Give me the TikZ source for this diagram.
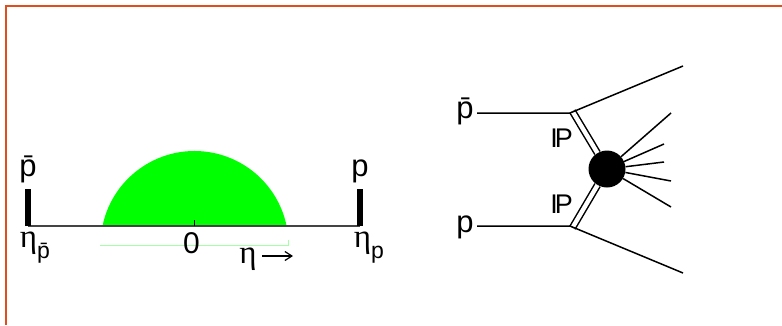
\documentclass[tikz,border=0pt]{standalone}
\usepackage{xcolor}
\usepackage{fontspec}
\setmainfont{Liberation Sans}
\newfontfamily\etafont{Liberation Serif}
\usetikzlibrary{
  arrows.meta,
  positioning
}
\definecolor{FrameOrange}{HTML}{E04E20}
\definecolor{PlateauGreen}{HTML}{00FF00}
\definecolor{AxisGrey}{HTML}{444444}
\tikzset{
  lbl/.style={inner sep=0pt,anchor=base,font=\fontsize{31}{31}\selectfont},
  pomlbl/.style={inner sep=0pt,anchor=base,font=\fontsize{27}{27}\selectfont},
  prong/.style={line width=1.5pt,black},
  pomeron/.style={double=white,line width=1.5pt,double distance=4.4pt,black},
  beambar/.style={line width=5.5pt,black}
}
\newcommand{\etasym}{{\etafont\fontsize{33}{33}\selectfont η}}
\newcommand{\subp}[1]{\raisebox{-11pt}{\fontsize{23}{23}\selectfont #1}}
\begin{document}
\begin{tikzpicture}[x=1pt,y=-1pt]
  \useasboundingbox (0,0) rectangle (782,325);
  \draw[FrameOrange,line width=2.4pt] (6,325) -- (6,6) -- (782,6);
  % rapidity plateau
  \fill[PlateauGreen] (102.5,226) arc[start angle=191.66,end angle=348.34,radius=94] -- cycle;
  \draw[PlateauGreen!35,line width=0.6pt] (100,245) -- (288,245) -- (288,240);
  \coordinate (etaL) at (28,226);
  \coordinate (etaR) at (360,226);
  \coordinate (barL) at (28,189);
  \coordinate (barR) at (360,189);
  \coordinate (zero) at (194,226);
  \coordinate (zerotop) at (194,220);
  \draw[AxisGrey,line width=1.1pt] (etaL) -- (etaR);
  \draw[black,line width=1pt] (zero) -- (zerotop);
  \draw[beambar] (etaL) -- (barL);
  \draw[beambar] (etaR) -- (barR);
  \node[lbl] (pbarL) at (28,176) {\=p};
  \node[lbl] (pR) at (360,176) {p};
  \node[lbl] (etapbar) at (35,247) {\etasym\subp{\=p}};
  \node[lbl] (etap) at (369,247) {\etasym\subp{p}};
  \node[lbl,font=\fontsize{30}{30}\selectfont] (zerolabel) at (191.5,253) {0};
  \node[lbl] (etalabel) at (248,263) {\etasym};
  \coordinate (arrowtail) at (262,256);
  \coordinate (arrowend) at (293,256);
  \draw[-{Straight Barb[length=7pt,width=9pt]},line width=1.2pt] (arrowtail) -- (arrowend);
  % diffractive graph
  \coordinate (vtop) at (570,113);
  \coordinate (vbot) at (570,226);
  \coordinate (vtopdbl) at (572.4,111.2);
  \coordinate (vbotdbl) at (572.4,227.8);
  \coordinate (outtop) at (683,66);
  \coordinate (outbot) at (683,273);
  \coordinate (pbarstub) at (477,113);
  \coordinate (pstub) at (477,226);
  \node[lbl] (pbarin) at (465,118) {\=p};
  \node[lbl] (pin) at (465,232) {p};
  \node[circle,fill=black,minimum size=37pt,inner sep=0pt] (blob) at (607,169) {};
  \node[pomlbl] (pomtop) at (561.5,147) {I\kern-3pt P};
  \node[pomlbl] (pombot) at (561.5,213) {I\kern-3pt P};
  \draw[pomeron] (vtopdbl) -- (blob);
  \draw[pomeron] (vbotdbl) -- (blob);
  \draw[prong] (pbarstub) -- (vtop) -- (outtop);
  \draw[prong] (pstub) -- (vbot) -- (outbot);
  \coordinate (rayA) at (671,113);
  \coordinate (rayB) at (664,144);
  \coordinate (rayC) at (664,162);
  \coordinate (rayD) at (671,181);
  \coordinate (rayE) at (671,207);
  \foreach \ray in {rayA,rayB,rayC,rayD,rayE}
    \draw[prong] (blob) -- (\ray);
\end{tikzpicture}
\end{document}
